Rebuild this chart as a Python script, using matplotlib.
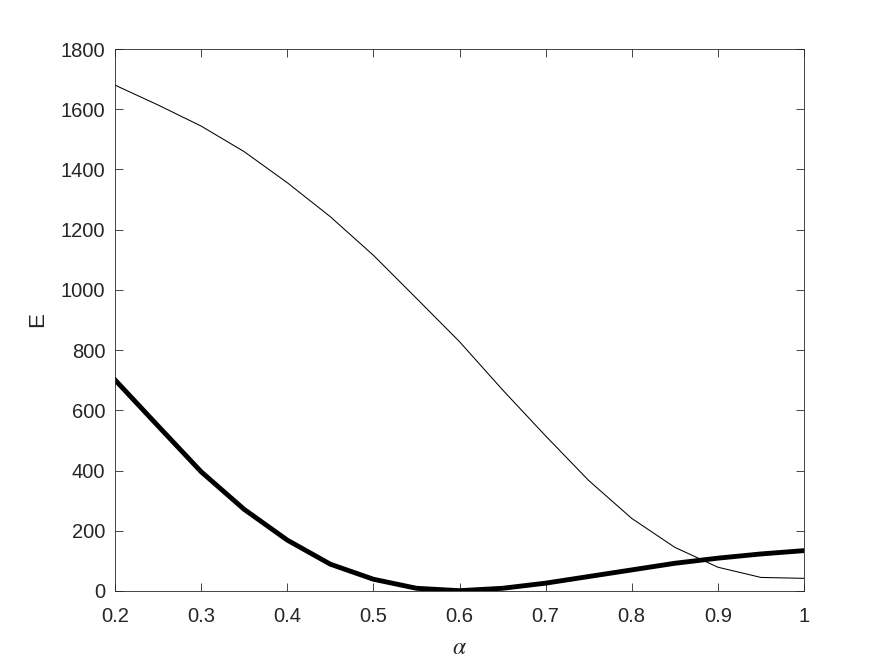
import numpy as np
import matplotlib
matplotlib.use('Agg')
import matplotlib.pyplot as plt

# data
alpha = [0.2, 0.25, 0.3, 0.35, 0.4, 0.45, 0.5, 0.55, 0.6, 0.65,
         0.7, 0.75, 0.8, 0.85, 0.9, 0.95, 1.0]
E_thin = [1680, 1614, 1544, 1459, 1356, 1243, 1115, 972, 828, 668,
          515, 367, 241, 145, 79, 45, 42]
E_thick = [701, 548, 396, 271, 169, 89, 39, 9, 1, 9,
           26, 48, 70, 92, 109, 123, 134]

plt.rcParams['font.family'] = ['Liberation Sans', 'DejaVu Sans']
plt.rcParams['mathtext.fontset'] = 'stix'

axcol = '#262626'

fig = plt.figure(figsize=(8.87, 6.65), dpi=100)
ax = fig.add_axes([0.1297, 0.1113, 0.7767, 0.815])

ax.plot(alpha, E_thin, color='k', lw=0.75)
ax.plot(alpha, E_thick, color='k', lw=3.5)

ax.set_xlim(0.2, 1)
ax.set_ylim(0, 1800)
ax.set_xticks(np.arange(0.2, 1.01, 0.1))
ax.set_xticklabels(['0.2', '0.3', '0.4', '0.5', '0.6', '0.7', '0.8', '0.9', '1'])
ax.set_yticks(np.arange(0, 1801, 200))

ax.tick_params(direction='in', length=6, width=0.6, colors=axcol,
               labelsize=14.5, top=True, right=True)
ax.tick_params(axis='x', pad=11.5)
ax.tick_params(axis='y', pad=7)
for s in ax.spines.values():
    s.set_color(axcol)
    s.set_linewidth(0.6)

ax.set_xlabel(r'$\alpha$', fontsize=17, color=axcol, labelpad=8)
ax.set_ylabel('E', fontsize=16, color=axcol, labelpad=9)

fig.savefig('out.png', dpi=100)
